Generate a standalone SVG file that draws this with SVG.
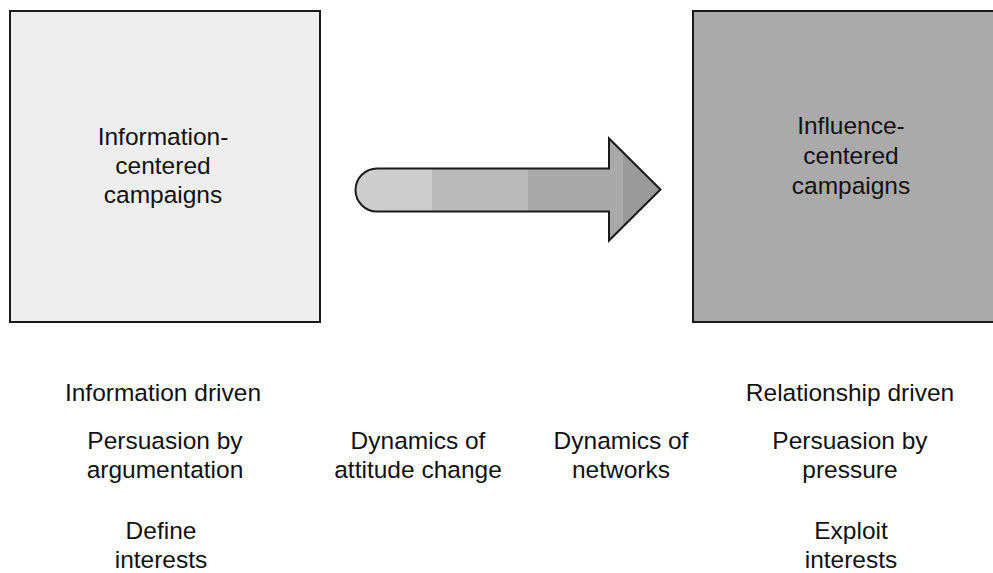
<svg xmlns="http://www.w3.org/2000/svg" width="993" height="573" viewBox="0 0 993 573">
<style>
text{font-family:"Liberation Sans",Arial,Helvetica,sans-serif;font-size:24.5px;fill:#111;text-anchor:middle}
.box{stroke:#1a1a1a;stroke-width:2}
</style>
<defs>
<clipPath id="arrowClip"><path d="M377,168.5 H609 V138.5 L660.5,189.5 L609,240.5 V211.5 H377 A21.5,21.5 0 0 1 377,168.5 Z"/></clipPath>
</defs>
<rect width="993" height="573" fill="#fff"/>
<g id="info-box">
<rect class="box" x="10" y="11" width="310" height="311" fill="#eeeeee"/>
<text x="163" y="145">Information-</text>
<text x="163" y="174">centered</text>
<text x="163" y="203">campaigns</text>
</g>
<g id="influence-box">
<rect class="box" x="693" y="11" width="310" height="311" fill="#aaaaaa"/>
<text x="851" y="134">Influence-</text>
<text x="851" y="164">centered</text>
<text x="851" y="194">campaigns</text>
</g>
<g id="connectors">
<g clip-path="url(#arrowClip)">
<rect x="350" y="130" width="82" height="120" fill="#cdcdcd"/>
<rect x="432" y="130" width="96" height="120" fill="#bababa"/>
<rect x="528" y="130" width="95" height="120" fill="#a9a9a9"/>
<rect x="623" y="130" width="45" height="120" fill="#9a9a9a"/>
</g>
<path d="M377,168.5 H609 V138.5 L660.5,189.5 L609,240.5 V211.5 H377 A21.5,21.5 0 0 1 377,168.5 Z" fill="none" stroke="#1a1a1a" stroke-width="2" stroke-linejoin="miter"/>
</g>
<g id="left-labels">
<text x="163" y="401">Information driven</text>
<text x="165" y="449">Persuasion by</text>
<text x="165" y="478">argumentation</text>
<text x="161" y="539">Define</text>
<text x="161" y="568">interests</text>
</g>
<g id="middle-labels">
<text x="418" y="449">Dynamics of</text>
<text x="418" y="478">attitude change</text>
<text x="621" y="449">Dynamics of</text>
<text x="621" y="478">networks</text>
</g>
<g id="right-labels">
<text x="850" y="401">Relationship driven</text>
<text x="850" y="449">Persuasion by</text>
<text x="850" y="478">pressure</text>
<text x="851" y="539">Exploit</text>
<text x="851" y="568">interests</text>
</g>
</svg>
